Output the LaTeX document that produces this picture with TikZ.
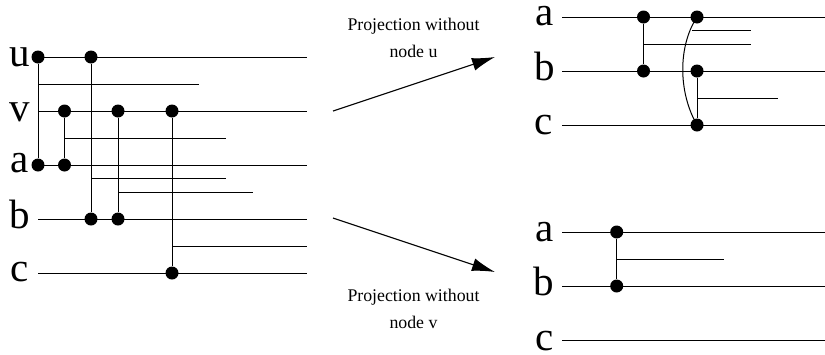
\documentclass[tikz,border=0pt]{standalone}
\usepackage{fontspec}
\setmainfont{Liberation Serif}
\usetikzlibrary{arrows.meta}
\tikzset{
  wire/.style={draw=black,line width=1pt},
  link/.style={draw=black,line width=1pt},
  dot/.style={circle,fill=black,inner sep=0pt,minimum size=13pt},
  big/.style={font=\fontsize{41}{41}\selectfont,inner sep=0pt,anchor=base east},
  captxt/.style={font=\fontsize{17.8}{27}\selectfont,align=center,inner sep=0pt},
  proj/.style={draw=black,line width=1.1pt,-{Latex[length=23pt,width=13pt]}}
}
\begin{document}
\begin{tikzpicture}[x=1pt,y=-1pt]
\useasboundingbox (0,0) rectangle (825,354);
% left group
\node[big] (lu) at (30.5,66.5) {u};
\node[big] (lv) at (30.5,121.5) {v};
\node[big] (la) at (29,172.5) {a};
\node[big] (lb) at (30,228) {b};
\node[big] (lc) at (29,281.5) {c};
\coordinate (us) at (38,57); \coordinate (ue) at (307,57);
\coordinate (vs) at (38,111); \coordinate (ve) at (307,111);
\coordinate (as) at (38,165); \coordinate (ae) at (307,165);
\coordinate (bs) at (38,219); \coordinate (be) at (307,219);
\coordinate (cs) at (38,273); \coordinate (ce) at (307,273);
\foreach \n in {u,v,a,b,c} \draw[wire] (\n s) -- (\n e);
\node[dot] (d1) at (38,57) {};
\node[dot] (d2) at (38,165) {};
\node[dot] (d3) at (91,57) {};
\node[dot] (d4) at (91,219) {};
\node[dot] (d5) at (64.5,111) {};
\node[dot] (d6) at (64.5,165) {};
\node[dot] (d7) at (118,111) {};
\node[dot] (d8) at (118,219) {};
\node[dot] (d9) at (172,111) {};
\node[dot] (d10) at (172,273) {};
\draw[link] (d1) -- (d2);
\draw[link] (d3) -- (d4);
\draw[link] (d5) -- (d6);
\draw[link] (d7) -- (d8);
\draw[link] (d9) -- (d10);
\coordinate (b1s) at (38,84); \coordinate (b1e) at (199,84);
\coordinate (b2s) at (64.5,138); \coordinate (b2e) at (226,138);
\coordinate (b3s) at (91,178.5); \coordinate (b3e) at (226,178.5);
\coordinate (b4s) at (118,192); \coordinate (b4e) at (253,192);
\coordinate (b5s) at (172,246); \coordinate (b5e) at (307,246);
\foreach \n in {b1,b2,b3,b4,b5} \draw[link] (\n s) -- (\n e);
% upper right group
\node[big] (ra) at (554,25) {a};
\node[big] (rb) at (555,80) {b};
\node[big] (rc) at (553,134) {c};
\coordinate (pas) at (562,17); \coordinate (pae) at (825,17);
\coordinate (pbs) at (562,71); \coordinate (pbe) at (825,71);
\coordinate (pcs) at (562,125); \coordinate (pce) at (825,125);
\foreach \n in {pa,pb,pc} \draw[wire] (\n s) -- (\n e);
\node[dot] (e1) at (643.5,17) {};
\node[dot] (e2) at (643.5,71) {};
\node[dot] (e3) at (697,17) {};
\node[dot] (e4) at (697,71) {};
\node[dot] (e5) at (697,125) {};
\draw[link] (e1) -- (e2);
\draw[link] (e4) -- (e5);
\draw[link] (e3.center) .. controls (678,46) and (678,92) .. (e5.center);
\coordinate (c1s) at (692,30); \coordinate (c1e) at (751,30);
\coordinate (c2s) at (643.5,44); \coordinate (c2e) at (751,44);
\coordinate (c3s) at (697,98); \coordinate (c3e) at (778,98);
\foreach \n in {c1,c2,c3} \draw[link] (\n s) -- (\n e);
% lower right group
\node[big] (sa) at (553.5,241) {a};
\node[big] (sb) at (554,295.5) {b};
\node[big] (sc) at (554,350) {c};
\coordinate (qas) at (562,232); \coordinate (qae) at (825,232);
\coordinate (qbs) at (562,286); \coordinate (qbe) at (825,286);
\coordinate (qcs) at (562,340); \coordinate (qce) at (825,340);
\foreach \n in {qa,qb,qc} \draw[wire] (\n s) -- (\n e);
\node[dot] (f1) at (616.7,232) {};
\node[dot] (f2) at (616.7,286) {};
\draw[link] (f1) -- (f2);
\coordinate (g1s) at (616.7,259); \coordinate (g1e) at (724,259);
\draw[link] (g1s) -- (g1e);
% projections
\coordinate (p1s) at (333,111); \coordinate (p1e) at (495,57);
\coordinate (p2s) at (333,218); \coordinate (p2e) at (495,272);
\draw[proj] (p1s) -- (p1e);
\draw[proj] (p2s) -- (p2e);
\node[captxt] (t1) at (413.5,38) {Projection without\\node u};
\node[captxt] (t2) at (413.5,308.5) {Projection without\\node v};
\end{tikzpicture}
\end{document}
